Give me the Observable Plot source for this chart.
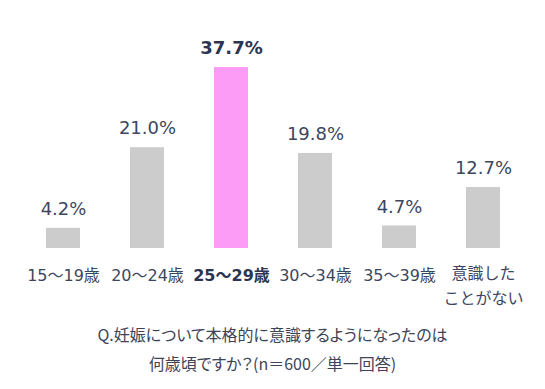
<!DOCTYPE html>
<html><head><meta charset="utf-8">
<script src="https://cdn.jsdelivr.net/npm/d3@7"></script>
<script src="https://cdn.jsdelivr.net/npm/@observablehq/plot@0.6"></script>
<style>
body{margin:0;background:#fff;width:545px;height:389px;overflow:hidden;}
#cap{font-family:"Noto Sans CJK JP",sans-serif;font-size:16px;font-feature-settings:"palt";color:#3d4456;text-align:center;line-height:29px;margin-top:10px;}
</style></head><body>
<div id="chart"></div>
<div id="cap">Q.妊娠について本格的に意識するようになったのは<br>何歳頃ですか？(n＝600／単一回答)</div>
<script>
const categories = ["15～19歳","20～24歳","25～29歳","30～34歳","35～39歳","意識した\nことがない"];
const values = [4.2, 21.0, 37.7, 19.8, 4.7, 12.7];
const highlight = "25～29歳";
const data = categories.map((c,i)=>({cat:c, value:values[i], hi:c===highlight}));
const font = '"DejaVu Sans","Noto Sans CJK JP",sans-serif';
const chart = Plot.plot({
  width:545, height:310,
  marginLeft:20, marginRight:20, marginTop:56, marginBottom:62,
  style:{fontFamily:font, background:"#fff"},
  x:{domain:categories, paddingInner:0.6, paddingOuter:0.3, axis:null},
  y:{domain:[0,40], axis:null},
  marks:[
    Plot.barY(data,{x:"cat", y:"value", fill:d=>d.hi?"#fd9cf7":"#cdcccd"}),
    Plot.text(data.filter(d=>!d.hi),{x:"cat", y:"value", text:d=>d.value.toFixed(1)+"%", dy:-19, fontSize:18, fill:"#3d4660", lineAnchor:"middle"}),
    Plot.text(data.filter(d=>d.hi),{x:"cat", y:"value", text:d=>d.value.toFixed(1)+"%", dy:-19, fontSize:18, fontWeight:"bold", fill:"#2b3552", lineAnchor:"middle"}),
    Plot.axisX({ticks:categories.slice(0,5).filter(c=>c!==highlight), tickSize:0, tickPadding:21, fontSize:16, color:"#3d4660", label:null}),
    Plot.axisX({ticks:[highlight], tickSize:0, tickPadding:21, fontSize:16, fontWeight:"bold", color:"#2b3552", label:null}),
    Plot.axisX({ticks:[categories[5]], tickSize:0, tickPadding:12, fontSize:16, lineHeight:1.6, color:"#3d4660", label:null})
  ]
});
document.getElementById("chart").appendChild(chart);
</script>
</body></html>
